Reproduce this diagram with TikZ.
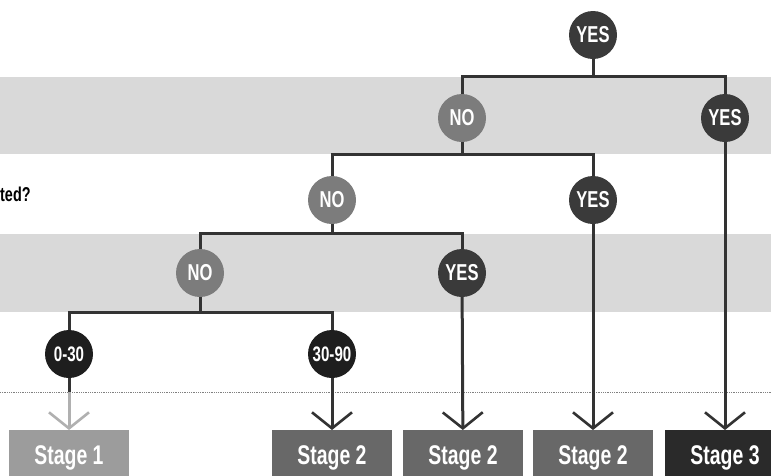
\documentclass[tikz,border=0pt]{standalone}
\usepackage{fontspec}
\setmainfont{Liberation Sans}[FakeStretch=0.72]
\usetikzlibrary{arrows.meta}

\definecolor{linecol}{HTML}{333333}
\definecolor{bandcol}{HTML}{D9D9D9}
\definecolor{yescol}{HTML}{3A3A3A}
\definecolor{nocol}{HTML}{7C7C7C}
\definecolor{rangecol}{HTML}{1E1E1E}
\definecolor{stageone}{HTML}{9C9C9C}
\definecolor{stagetwo}{HTML}{686868}
\definecolor{stagethree}{HTML}{2A2A2A}

\begin{document}
\begin{tikzpicture}[
  x=1pt, y=-1pt,
  answer/.style={
    circle,
    minimum size=48pt,
    inner sep=0pt,
    text=white,
    font=\fontsize{23}{23}\selectfont\bfseries},
  yesnode/.style={answer, fill=yescol},
  nonode/.style={answer, fill=nocol},
  rangenode/.style={answer, fill=rangecol, font=\fontsize{21}{21}\selectfont\bfseries},
  stagebox/.style={
    minimum width=120pt,
    minimum height=56pt,
    inner sep=0pt,
    anchor=north,
    text=white,
    font=\fontsize{27}{27}\selectfont\bfseries},
  branch/.style={draw=linecol, line width=3pt},
  down/.style={branch, -{Straight Barb[length=16pt,width=40pt,line width=2.6pt]}}
  ]
  \useasboundingbox (0,0) rectangle (771,475);
  % shaded bands
  \fill[bandcol] (0,77) rectangle (771,154);
  \fill[bandcol] (0,234) rectangle (771,312);
  \draw[gray, densely dotted, line width=0.8pt] (0,392) -- (771,392);
  \node[anchor=base west, inner sep=0pt, font=\fontsize{20}{20}\selectfont\bfseries] (q) at (0,201) {ted?};

  % answers
  \node[yesnode] (yes0) at (593,35) {YES};
  \node[nonode] (no1) at (462,118) {NO};
  \node[yesnode] (yes1) at (725,118) {YES};
  \node[nonode] (no2) at (332,200) {NO};
  \node[yesnode] (yes2) at (593,200) {YES};
  \node[nonode] (no3) at (200,273) {NO};
  \node[yesnode] (yes3) at (462,273) {YES};
  \node[rangenode] (r1) at (69,354) {0-30};
  \node[rangenode] (r2) at (332,354) {30-90};

  % outcomes
  \node[stagebox, fill=stageone] (s1) at (69,430) {Stage 1};
  \node[stagebox, fill=stagetwo] (s2) at (332,430) {Stage 2};
  \node[stagebox, fill=stagetwo] (s3) at (463,430) {Stage 2};
  \node[stagebox, fill=stagetwo] (s4) at (593,430) {Stage 2};
  \node[stagebox, fill=stagethree] (s5) at (725,430) {Stage 3};

  % junctions
  \coordinate (j0) at (593,76);
  \coordinate (j1) at (462,154);
  \coordinate (j2) at (332,233);
  \coordinate (j3) at (200,312);
  \coordinate (m1) at (69,392);

  \draw[branch] (yes0) -- (j0);
  \draw[branch] (no1) |- (j0) -| (yes1);
  \draw[branch] (no1) -- (j1);
  \draw[branch] (no2) |- (j1) -| (yes2);
  \draw[branch] (no2) -- (j2);
  \draw[branch] (no3) |- (j2) -| (yes3);
  \draw[branch] (no3) -- (j3);
  \draw[branch] (r1) |- (j3) -| (r2);

  % arrows into the stages
  \draw[branch] (r1) -- (m1);
  \draw[down, draw=stageone!80] (m1) -- (s1);
  \draw[down] (r2) -- (s2);
  \draw[down] (yes3) -- (s3);
  \draw[down] (yes2) -- (s4);
  \draw[down] (yes1) -- (s5);
\end{tikzpicture}
\end{document}
